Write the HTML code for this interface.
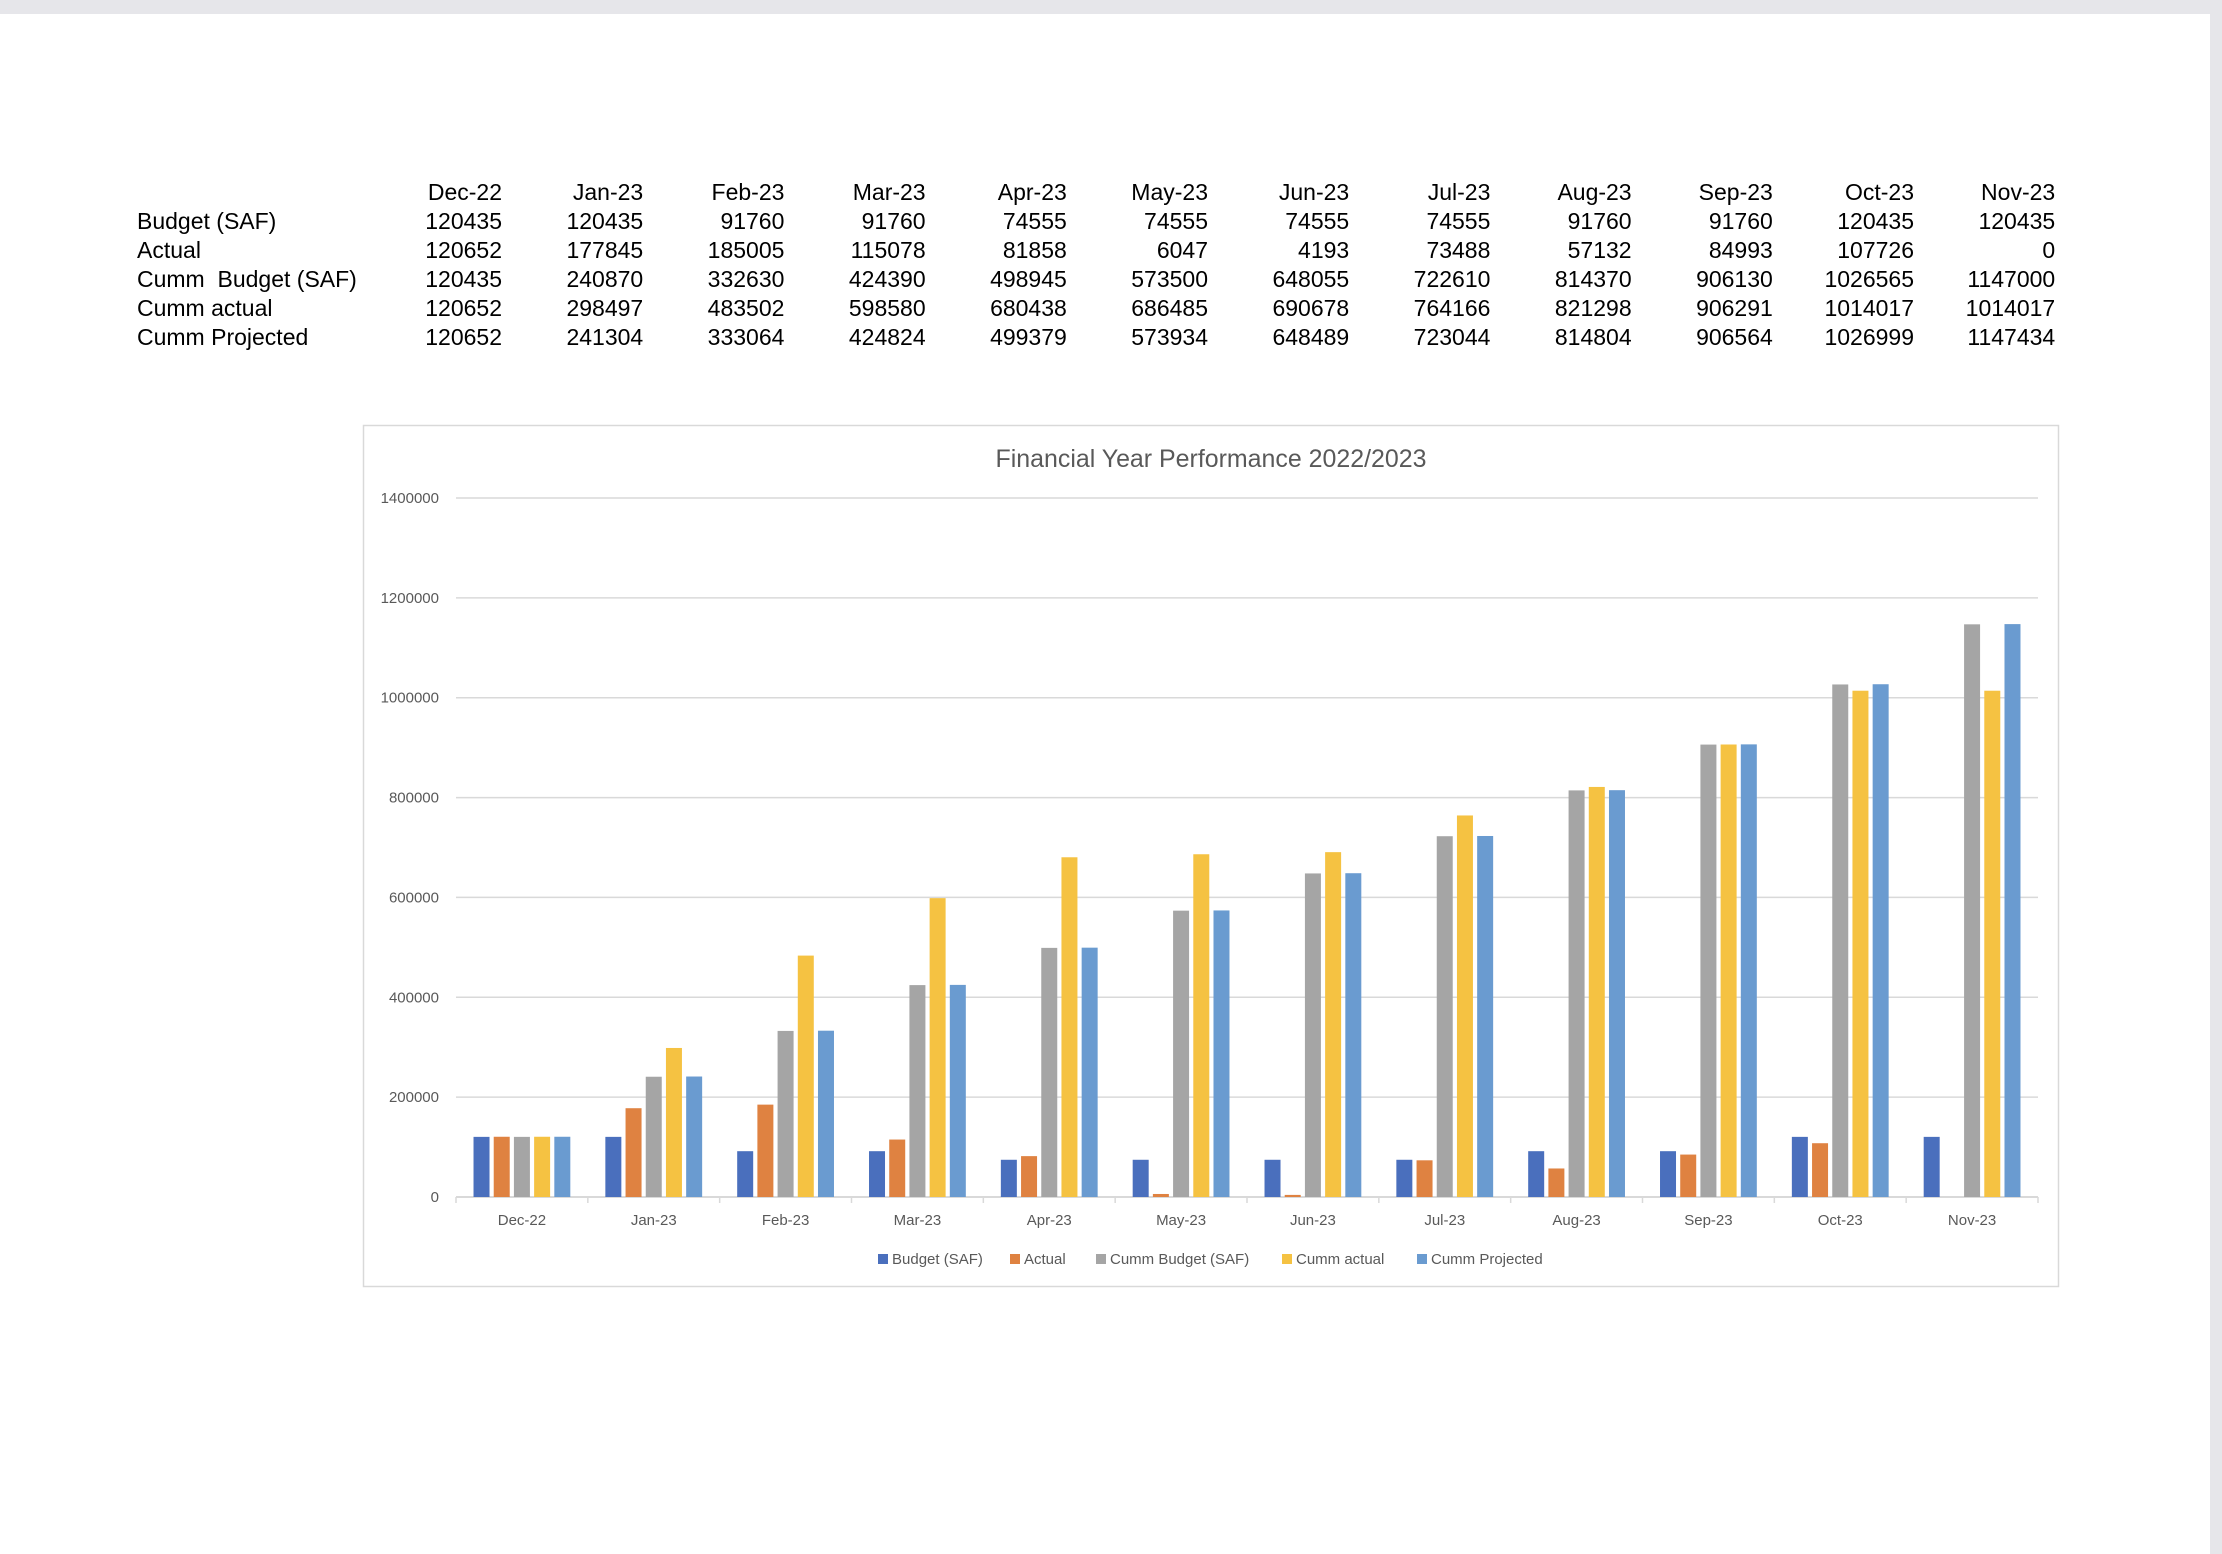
<!DOCTYPE html>
<html><head><meta charset="utf-8"><style>
html,body{margin:0;padding:0;width:2222px;height:1554px;overflow:hidden;background:#e6e6ea;font-family:"Liberation Sans",sans-serif}
#page{position:absolute;left:0;top:14px;width:2210px;height:1540px;background:#fff}
#tbl{position:absolute;left:0;top:0;width:2222px;height:1554px;font-size:23px;color:#000}
.c{position:absolute;white-space:pre}
</style></head><body>
<div id="page"></div>
<div id="tbl"></div>
<svg id="chart" width="2222" height="1554" style="position:absolute;left:0;top:0"></svg>
<script>
const categories=["Dec-22","Jan-23","Feb-23","Mar-23","Apr-23","May-23","Jun-23","Jul-23","Aug-23","Sep-23","Oct-23","Nov-23"];
const seriesNames=["Budget (SAF)","Actual","Cumm  Budget (SAF)","Cumm actual","Cumm Projected"];
const budget=[120435,120435,91760,91760,74555,74555,74555,74555,91760,91760,120435,120435];
const actual=[120652,177845,185005,115078,81858,6047,4193,73488,57132,84993,107726,0];
const cummBudget=[120435,240870,332630,424390,498945,573500,648055,722610,814370,906130,1026565,1147000];
const cummActual=[120652,298497,483502,598580,680438,686485,690678,764166,821298,906291,1014017,1014017];
const cummProjected=[120652,241304,333064,424824,499379,573934,648489,723044,814804,906564,1026999,1147434];
const yTicks=[0,200000,400000,600000,800000,1000000,1200000,1400000];
const series=[budget,actual,cummBudget,cummActual,cummProjected];
const colorsDraw=["#4a6fbd","#df8241","#a5a5a5","#f5c242","#6a9bd0"];

const tbl=document.getElementById('tbl');
function cell(txt,x,y,right,name){const d=document.createElement('div');d.className='c';d.textContent=txt;


if(right){d.style.right=(2222-x)+'px';}else{d.style.left=x+'px';}d.style.top=(y-21)+'px';tbl.appendChild(d);}
const rowY=[229,258,287,316,345];
const colRight=i=>502+i*141.2;
categories.forEach((c,i)=>cell(c,colRight(i),200,true,'table-header-'+c.toLowerCase()));
seriesNames.forEach((n,r)=>{cell(n,137,rowY[r],false,'table-row-label');series[r].forEach((v,i)=>cell(String(v),colRight(i),rowY[r],true,'table-value'));});

const svg=document.getElementById('chart');const NS='http://www.w3.org/2000/svg';
function el(t,a,p){const e=document.createElementNS(NS,t);for(const k in a)e.setAttribute(k,a[k]);(p||svg).appendChild(e);return e;}
const L=456,R=2038,T=498,B=1197,yMax=1400000;
const y=v=>B-(v/yMax)*(B-T);
const cw=(R-L)/categories.length;
const x=i=>L+i*cw;
const frame=el('rect',{x:363.5,y:425.5,width:1695,height:861,fill:'#fff',stroke:'#d9d9d9','stroke-width':1.5});


const title=el('text',{x:1211,y:467,'text-anchor':'middle','font-size':25,fill:'#595959',textLength:431,lengthAdjust:'spacingAndGlyphs'});
title.textContent='Financial Year Performance 2022/2023';


yTicks.forEach(t=>{
 if(t>0){const g=el('line',{x1:L,x2:R,y1:y(t),y2:y(t),stroke:'#d9d9d9','stroke-width':1.5});
 
 }
 const lb=el('text',{x:439,y:y(t)+5,'text-anchor':'end','font-size':15,fill:'#595959'});lb.textContent=String(t);
 
 
});
const ax=el('line',{x1:L,x2:R,y1:B,y2:B,stroke:'#d9d9d9','stroke-width':2});


for(let i=0;i<=categories.length;i++){const tk=el('line',{x1:x(i),x2:x(i),y1:B,y2:B+6,stroke:'#d9d9d9','stroke-width':1.5});
 
 }
const bw=16,step=20.2,off=(cw-(4*step+bw))/2;
categories.forEach((c,i)=>{
 series.forEach((s,k)=>{const v=s[i];if(v<=0)return;
  const b=el('rect',{x:x(i)+off+k*step,y:y(v),width:bw,height:B-y(v),fill:colorsDraw[k]});
  
  });
 const lb=el('text',{x:x(i)+cw/2,y:1225,'text-anchor':'middle','font-size':15,fill:'#595959'});lb.textContent=c;
 
 
});
const legX=[878,1010,1096,1282,1417];
seriesNames.forEach((n,k)=>{
 const g=el('g',{});
 
 
 el('rect',{x:legX[k],y:1254,width:10,height:10,fill:colorsDraw[k]},g);
 const t=el('text',{x:legX[k]+14,y:1264,'font-size':15,fill:'#595959','xml:space':'preserve'},g);t.textContent=n;
});
</script>
</body></html>
